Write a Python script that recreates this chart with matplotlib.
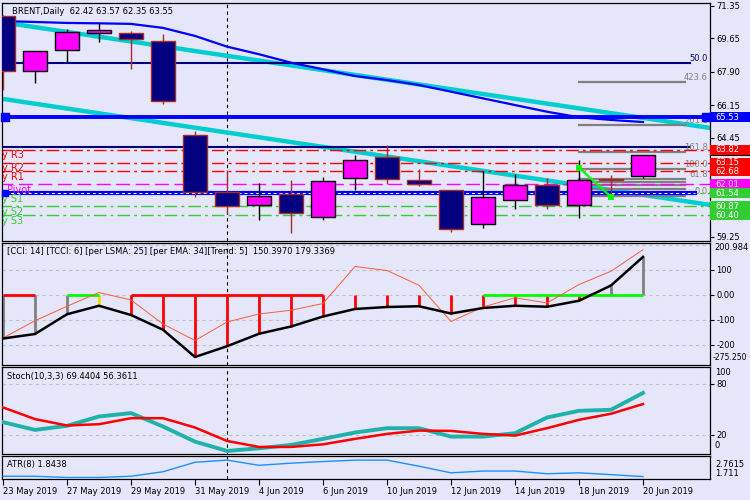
import matplotlib
matplotlib.use('Agg')
import matplotlib.pyplot as plt
import matplotlib.transforms as mtransforms
from matplotlib.patches import Rectangle

# ---- values ----
bars = list(range(21))
date_ticks = [0, 2, 4, 6, 8, 10, 12, 14, 16, 18, 20]
date_labels = ['23 May 2019', '27 May 2019', '29 May 2019', '31 May 2019', '4 Jun 2019',
               '6 Jun 2019', '10 Jun 2019', '12 Jun 2019', '14 Jun 2019', '18 Jun 2019',
               '20 Jun 2019']

opens = [70.83, 67.93, 69.03, 69.92, 69.92, 69.50, 64.59, 61.59, 60.91, 61.50, 60.31,
         62.36, 63.46, 62.22, 61.70, 59.91, 61.17, 61.96, 60.91, 62.30, 62.42]
highs = [70.90, 68.99, 70.15, 70.48, 70.04, 69.88, 64.80, 62.76, 62.09, 62.24, 62.41,
         63.54, 64.07, 62.80, 61.70, 62.72, 62.55, 62.32, 63.28, 62.50, 63.57]
lows = [66.95, 67.30, 68.43, 69.48, 68.03, 66.22, 61.36, 60.44, 60.14, 59.44, 60.14,
        61.71, 62.01, 61.92, 59.53, 59.74, 60.70, 60.70, 60.23, 61.28, 62.35]
closes = [67.95, 68.99, 69.99, 70.08, 69.61, 66.37, 61.62, 60.86, 61.40, 60.49, 62.18,
          63.27, 62.27, 62.01, 59.68, 61.33, 61.96, 60.91, 62.22, 62.22, 63.55]

ma_blue = [70.56, 70.51, 70.46, 70.44, 70.41, 70.20, 69.78, 69.22, 68.82, 68.38, 68.03,
           67.68, 67.47, 67.21, 66.86, 66.51, 66.16, 65.81, 65.52, 65.38, 65.27]

# trend channel anchors (bar, price)
upper_trend_x = [0, 22.1]
upper_trend_y = [70.49, 64.96]
lower_trend_x = [0, 22.1]
lower_trend_y = [66.48, 60.93]

navy_levels = [68.35, 63.98]
navy_labels = ['50.0', '']

fib_prices = [61.42, 61.75, 61.96, 62.13, 62.29, 62.83, 63.70, 65.11, 67.39]
fib_labels = ['0.0', '', '', '', '61.8', '100.0', '161.8', '261.8', '423.6']
fib_start = 18

zig_x = [18, 19]
zig_y = [62.88, 61.35]

pivot_names = ['y R3', 'y R2', 'y R1', 'Pivot', 'y S1', 'y S2', 'y S3']
pivot_levels = [63.82, 63.15, 62.68, 62.01, 61.54, 60.87, 60.40]

blue_level = 65.53
blue_band = 61.53
last_price = 63.55

main_ticks = [71.35, 69.65, 67.90, 66.15, 64.45, 59.25]

cci_black = [-176, -158, -79, -45, -82, -141, -250, -207, -157, -128, -88, -58, -50, -47,
             -76, -54, -45, -49, -25, 36, 150.4]
cci_red = [-174, -105, -47, 8, -22, -118, -184, -110, -78, -63, -36, 112, 96, 37, -108,
           -50, -13, -34, 40, 93, 179.3]
cci_hist_colors = ['#808080', '#808080', '#808080', '#FFD700'] + ['#FF0000'] * 15 + \
                  ['#808080', '#808080']
cci_zero_segments = [(0, 1, '#FF0000'), (2, 3, '#00FF00'), (4, 10, '#FF0000'),
                     (15, 20, '#00FF00')]

stoch_main = [35.0, 25.9, 30.7, 41.7, 45.7, 29.9, 12.1, 1.1, 4.2, 8.2, 15.3, 22.8, 27.9,
              27.9, 18.0, 18.0, 22.0, 40.5, 48.4, 49.6, 69.44]
stoch_signal = [52.4, 38.6, 31.1, 32.6, 39.7, 39.7, 28.7, 12.9, 5.8, 5.8, 8.9, 15.3, 21.2,
                25.1, 24.7, 21.2, 19.2, 27.9, 37.8, 44.9, 56.36]

atr = [1.86, 1.86, 1.79, 1.79, 1.86, 2.11, 2.64, 2.76, 2.47, 2.59, 2.68, 2.76, 2.76, 2.42,
       2.05, 2.15, 2.15, 2.00, 2.05, 1.95, 1.84]

# ---- styling ----
BG = '#E6E6FA'
W, H = 750, 500
FS = 6
plt.rcParams['font.family'] = ['DejaVu Sans']

fig = plt.figure(figsize=(7.5, 5), dpi=100, facecolor=BG)


def panel(top, bottom):
    ax = fig.add_axes([2 / W, 1 - bottom / H, 708 / W, (bottom - top) / H])
    ax.set_facecolor(BG)
    ax.set_xlim(-1 / 32, 707 / 32)
    for s in ax.spines.values():
        s.set_color('black')
        s.set_linewidth(0.9)
    ax.set_xticks([])
    ax.yaxis.tick_right()
    ax.tick_params(axis='y', direction='out', length=3, width=0.8, pad=1.5,
                   labelsize=FS, colors='black')
    ax.axvline(7, color='black', lw=0.8, ls=(0, (3, 3)), zorder=1)
    return ax


def right_text(ax, y, s, transform=None, dx=5, **kw):
    tr = transform or mtransforms.blended_transform_factory(ax.transAxes, ax.transData)
    ax.text(1 + dx / 708, y, s, transform=tr, fontsize=kw.pop('fontsize', FS),
            va='center', ha='left', clip_on=False, **kw)


# ---------- main price panel ----------
ax = panel(2.7, 241)
ax.set_ylim(59.04, 71.52)
ax.set_yticks(main_ticks)
ax.set_yticklabels([f'{t:.2f}' for t in main_ticks])
trans_r = mtransforms.blended_transform_factory(ax.transAxes, ax.transData)

ax.plot(upper_trend_x, upper_trend_y, color='#00CED1', lw=3.2, zorder=2, solid_capstyle='butt')
ax.plot(lower_trend_x, lower_trend_y, color='#00CED1', lw=3.2, zorder=2, solid_capstyle='butt')
ax.plot(bars, ma_blue, color='#0000FF', lw=1.6, zorder=3)

navy_end = (690 - 3) / 32
for lvl, lab in zip(navy_levels, navy_labels):
    ax.plot([-1, navy_end], [lvl, lvl], color='#000080', lw=1.5, zorder=2)
    if lab:
        ax.text((708 - 3) / 32, lvl, lab, color='#000080', fontsize=FS, ha='right',
                va='bottom', zorder=2)

fib_end = (685 - 3) / 32
for p, lab in zip(fib_prices, fib_labels):
    ax.plot([fib_start, fib_end], [p, p], color='#808080', lw=1.6, zorder=2)
    if lab:
        ax.text((708 - 3) / 32, p, lab, color='#808080', fontsize=FS, ha='right',
                va='bottom', zorder=2)

pivot_colors = ['#FF0000'] * 3 + ['#FF00FF'] + ['#32CD32'] * 3
for name, lvl, col in zip(pivot_names, pivot_levels, pivot_colors):
    ls = (0, (10, 4)) if name == 'Pivot' else (0, (9, 3, 2, 3))
    ax.plot([-1, 23], [lvl, lvl], color=col, lw=1.0, ls=ls, zorder=2)
    xt = (7 - 3) / 32 if name == 'Pivot' else (1.5 - 3) / 32
    ax.text(xt, lvl - 0.04, name, color=col, fontsize=7, va='top', ha='left', zorder=6)

ax.plot([-1, (695 - 3) / 32], [blue_band, blue_band], color='#0000FF', lw=3.0, zorder=4)
ax.plot([-1, (695 - 3) / 32], [blue_band, blue_band], color='white', lw=0.7,
        ls=(0, (3, 3)), zorder=4)
ax.plot([-1, 23], [blue_level, blue_level], color='#0000FF', lw=2.8, zorder=4)
ax.plot([(5 - 3) / 32, (706 - 3) / 32], [blue_level, blue_level], ls='none', marker='s',
        ms=5.5, color='#0000FF', clip_on=False, zorder=8)
ax.plot([(5 - 3) / 32], [blue_band], ls='none', marker='s', ms=5, color='#0000FF',
        clip_on=False, zorder=8)

ax.plot(zig_x, zig_y, color='#00FF00', lw=1.6, zorder=6)
ax.plot(zig_x, zig_y, ls='none', marker='s', ms=3.5, mfc='none', mec='#00FF00',
        mew=1.5, zorder=6)

# candles
for i, (o, h, l, c) in enumerate(zip(opens, highs, lows, closes)):
    up = c >= o
    face = '#FF00FF' if up else '#000080'
    edge = 'black' if up else '#A52A2A'
    ax.vlines(i, l, h, color=edge, lw=1.0, zorder=5)
    ax.add_patch(Rectangle((i - 12 / 32, min(o, c)), 24 / 32, max(abs(c - o), 0.03),
                           facecolor=face, edgecolor=edge, lw=1.0, zorder=5))

# right-hand price boxes
box_prices = [blue_level] + pivot_levels
box_colors = ['#0000FF'] + pivot_colors
bh = 10 / 19.09
for p, col in zip(box_prices, box_colors):
    ax.add_patch(Rectangle((1.0, p - bh / 2), 40 / 708, bh, transform=trans_r,
                           facecolor=col, edgecolor='none', clip_on=False, zorder=10))
    right_text(ax, p, f'{p:.2f}', color='white', zorder=11)
ax.plot([1.0, 1.06], [last_price, last_price], transform=trans_r, color='black', lw=0.8,
        clip_on=False, zorder=12)

fig.text(12 / W, 1 - 11 / H, 'BRENT,Daily  62.42 63.57 62.35 63.55', fontsize=FS,
         va='center', ha='left')

# ---------- CCI panel ----------
ax2 = panel(243, 365)
ax2.set_ylim(-282, 206)
ax2.set_yticks([100, 0, -100, -200])
ax2.set_yticklabels(['100', '0.00', '-100', '-200'])
for g in [200, 100, 0, -100, -200]:
    ax2.axhline(g, color='#C0C0C0', lw=0.8, ls=(0, (3, 3)), zorder=0)
ax2.vlines(bars, 0, cci_black, colors=cci_hist_colors, lw=2.0, zorder=2)
for a, b, col in cci_zero_segments:
    ax2.plot([a, b], [0, 0], color=col, lw=2.0, zorder=3, solid_capstyle='butt')
ax2.plot(bars, cci_red, color='#FF5A3C', lw=0.7, zorder=4)
ax2.plot(bars, cci_black, color='black', lw=1.8, zorder=5)
right_text(ax2, 186, '200.984', dx=4)
right_text(ax2, -250, '-275.250', dx=3, fontsize=5.6)
fig.text(7 / W, 1 - 251 / H,
         '[CCI: 14] [TCCI: 6] [per LSMA: 25] [per EMA: 34][Trend: 5]  150.3970 179.3369',
         fontsize=FS, va='center', ha='left')

# ---------- Stochastic panel ----------
ax3 = panel(367, 454)
ax3.set_ylim(-2.5, 100)
ax3.set_yticks([80, 20])
ax3.set_yticklabels(['80', '20'])
for g in [80, 20]:
    ax3.axhline(g, color='#C0C0C0', lw=0.8, ls=(0, (3, 3)), zorder=0)
ax3.plot(bars, stoch_main, color='#20B2AA', lw=2.8, zorder=3)
ax3.plot(bars, stoch_signal, color='#FF0000', lw=1.8, zorder=4)
right_text(ax3, 93.5, '100')
right_text(ax3, 7, '0')
fig.text(7 / W, 1 - 376 / H, 'Stoch(10,3,3) 69.4404 56.3611', fontsize=FS,
         va='center', ha='left')

# ---------- ATR panel ----------
ax4 = panel(456, 479)
ax4.set_ylim(1.706, 2.99)
ax4.set_yticks([])
ax4.plot(bars, atr, color='#1E90FF', lw=1.0, zorder=3)
right_text(ax4, 0.65, '2.7615', transform=ax4.transAxes)
right_text(ax4, 0.26, '1.711', transform=ax4.transAxes)
ax4.set_xticks(date_ticks)
ax4.set_xticklabels(date_labels)
ax4.tick_params(axis='x', direction='out', length=4, width=0.8, pad=2, labelsize=FS)
for lab in ax4.get_xticklabels():
    lab.set_ha('left')
fig.text(7 / W, 1 - 465 / H, 'ATR(8) 1.8438', fontsize=FS, va='center', ha='left')

fig.savefig('out.png', dpi=100, facecolor=BG)
